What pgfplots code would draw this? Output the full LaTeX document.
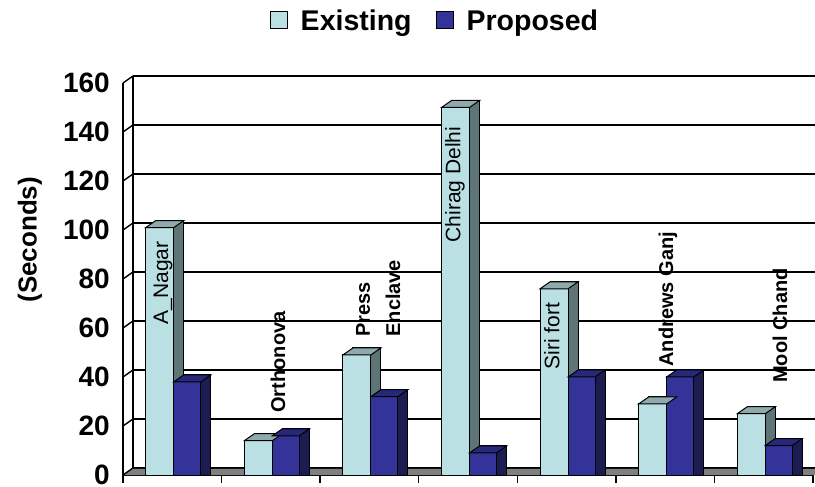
\documentclass[border=0pt]{standalone}
\usepackage{fontspec}
\setmainfont{Liberation Sans}
\usepackage{pgfplots}
\usepackage{pgfplotstable}
\usetikzlibrary{calc}
\pgfplotsset{compat=1.18}
\definecolor{ecol}{RGB}{187,224,227}
\definecolor{etop}{RGB}{143,170,172}
\definecolor{eside}{RGB}{94,117,119}
\definecolor{pcol}{RGB}{51,51,153}
\definecolor{ptop}{RGB}{40,40,122}
\definecolor{pside}{RGB}{28,28,80}
\definecolor{floorc}{RGB}{128,128,128}

\pgfdeclareplotmark{topE}{%
  \pgfpathmoveto{\pgfpoint{-26.5bp}{0bp}}%
  \pgfpathlineto{\pgfpoint{1.5bp}{0bp}}%
  \pgfpathlineto{\pgfpoint{11.5bp}{7bp}}%
  \pgfpathlineto{\pgfpoint{-16.5bp}{7bp}}%
  \pgfpathclose
  \pgfusepathqfillstroke}
\pgfdeclareplotmark{topP}{%
  \pgfpathmoveto{\pgfpoint{1.5bp}{0bp}}%
  \pgfpathlineto{\pgfpoint{28.5bp}{0bp}}%
  \pgfpathlineto{\pgfpoint{38.5bp}{7bp}}%
  \pgfpathlineto{\pgfpoint{11.5bp}{7bp}}%
  \pgfpathclose
  \pgfusepathqfillstroke}

\newcommand{\tickfont}{\fontsize{28bp}{30bp}\selectfont\bfseries}
\newcommand{\legfont}{\fontsize{28.5bp}{30bp}\selectfont\bfseries}
\newcommand{\labfont}{\fontsize{21bp}{24bp}\selectfont}
\newcommand{\labbfont}{\fontsize{20bp}{24bp}\selectfont\bfseries}

\pgfplotstableread{
x E P
0 101 38
1 14 16
2 49 32
3 150 9
4 76 40
5 29 40
6 25 12
}\data

\begin{document}
\begin{tikzpicture}
\useasboundingbox (0,0) rectangle (815bp,487bp);
\begin{axis}[
  at={(123bp,12bp)}, anchor=south west,
  scale only axis, width=690bp, height=392bp,
  xmin=-0.5, xmax=6.5, ymin=0, ymax=160,
  clip=false,
  axis x line*=bottom, axis y line*=left,
  axis line style={line width=1.4bp, black},
  xtick={-0.5,0.5,...,6.5}, xticklabels={},
  x tick style={line width=1.4bp, black},
  tick align=outside, major tick length=8bp,
  ytick={0,20,...,160},
  y tick style={draw=none},
  ymajorgrids,
  grid style={line width=1.5bp, black, xshift=10bp, yshift=7bp},
  /pgf/number format/assume math mode=true,
  yticklabel style={font=\tickfont, inner sep=0pt, xshift=-5bp},
  ylabel={(Seconds)},
  ylabel style={font=\fontsize{26bp}{30bp}\selectfont\bfseries, at={(axis description cs:-0.135,0.60)}, anchor=center},
  legend style={at={(0.452,1)}, anchor=center, yshift=62bp, draw=none, fill=none,
    legend columns=2, font=\legfont,
    /tikz/every odd column/.append style={column sep=11bp},
    /tikz/every even column/.append style={column sep=22bp}},
  legend cell align=left,
]
\fill[floorc] (axis cs:-0.5,0) -- (axis cs:6.5,0) -- ++(0,6bp) -- ($(axis cs:-0.5,0)+(10bp,6bp)$) -- cycle;
\draw[line width=1.4bp] ($(axis cs:-0.5,0)+(10bp,7bp)$) -- ($(axis cs:-0.5,160)+(10bp,7bp)$);
\pgfplotsinvokeforeach{0,20,...,160}{%
  \draw[line width=1.4bp] (axis cs:-0.5,#1) -- ($(axis cs:-0.5,#1)+(10bp,7bp)$);
}

\addlegendimage{legend image code/.code={\draw[fill=ecol,draw=black,line width=1bp] (0bp,-8bp) rectangle (17bp,9bp);}}
\addlegendentry{Existing}
\addlegendimage{legend image code/.code={\draw[fill=pcol,draw=black,line width=1bp] (0bp,-8bp) rectangle (17bp,9bp);}}
\addlegendentry{Proposed}

% Existing
\addplot[ybar, bar width=28bp, bar shift=-2.5bp, fill=eside, draw=black, line width=1bp, forget plot]
  table[x=x, y expr=\thisrow{E}+2.86]{\data};
\addplot[ybar, bar width=28bp, bar shift=-12.5bp, fill=ecol, draw=black, line width=1bp, forget plot]
  table[x=x, y=E]{\data};
\addplot[only marks, mark=topE, mark options={fill=etop, draw=black, line width=1bp}, forget plot]
  table[x=x, y=E]{\data};
% Proposed
\addplot[ybar, bar width=27bp, bar shift=25bp, fill=pside, draw=black, line width=1bp, forget plot]
  table[x=x, y expr=\thisrow{P}+2.86]{\data};
\addplot[ybar, bar width=27bp, bar shift=15bp, fill=pcol, draw=black, line width=1bp, forget plot]
  table[x=x, y=P]{\data};
\addplot[only marks, mark=topP, mark options={fill=ptop, draw=black, line width=1bp}, forget plot]
  table[x=x, y=P]{\data};

\begin{scope}[every node/.style={rotate=90, anchor=west, inner sep=0pt}]
\node[font=\labfont] at (axis cs:-0.094,61.4) {A\_Nagar};
\node[font=\labbfont] at (axis cs:1.072,25.4) {Orthonova};
\node[font=\labbfont] at (axis cs:1.935,56.5) {Press};
\node[font=\labbfont] at (axis cs:2.239,56.5) {Enclave};
\node[font=\labfont] at (axis cs:2.868,94.9) {Chirag Delhi};
\node[font=\labfont] at (axis cs:3.852,43) {Siri fort};
\node[font=\labbfont] at (axis cs:5.029,44.2) {Andrews Ganj};
\node[font=\labbfont] at (axis cs:6.165,37.6) {Mool Chand};
\end{scope}
\end{axis}
\end{tikzpicture}
\end{document}
